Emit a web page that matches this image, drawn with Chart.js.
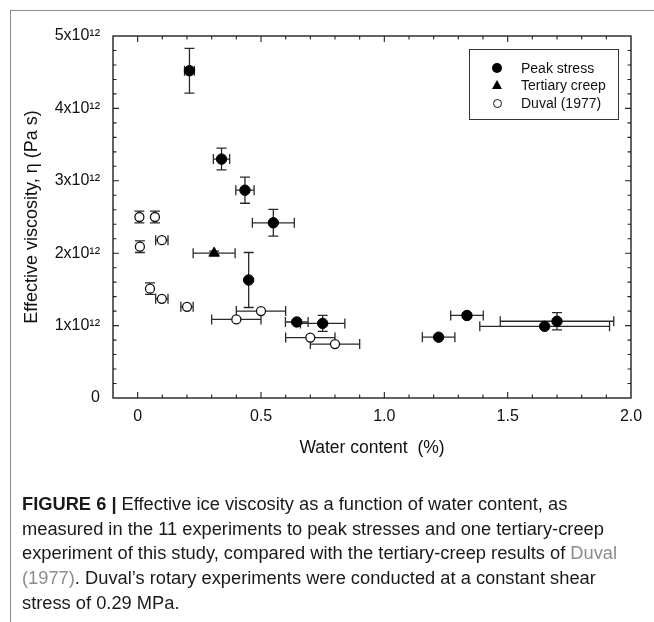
<!DOCTYPE html>
<html><head><meta charset="utf-8">
<script src="https://cdn.jsdelivr.net/npm/chart.js@4.4.0/dist/chart.umd.min.js"></script>
<style>
html,body{margin:0;padding:0;background:#fff;}
#wrap{position:relative;width:654px;height:622px;overflow:hidden;background:#fff;}
#frame{position:absolute;left:10px;top:10px;width:800px;height:800px;border-top:1.5px solid #8a8a8a;border-left:1.5px solid #8a8a8a;}
#c{position:absolute;left:0;top:0;}
#legend{position:absolute;left:469px;top:49px;width:150px;height:71px;border:1.2px solid #333;box-sizing:border-box;font:14px "Liberation Sans",Arial,sans-serif;color:#111;}
#legend .item{position:absolute;left:0;height:16px;width:148px;}
#legend .sym{position:absolute;box-sizing:border-box;}
#legend .txt{position:absolute;left:51px;top:0;line-height:16px;white-space:nowrap;}
#caption{position:absolute;left:22px;top:492px;width:640px;font:18.3px "Liberation Sans",Arial,sans-serif;line-height:24.7px;color:#1a1a1a;white-space:nowrap;}
#caption b{font-weight:bold;}
#caption .lnk{color:#8c8c8c;}
</style>
</head><body>
<div id="wrap">
<div id="frame"></div>
<canvas id="c" width="654" height="622"></canvas>
<div id="legend"></div>
<div id="caption"><b>FIGURE 6 |</b> Effective ice viscosity as a function of water content, as<br>measured in the 11 experiments to peak stresses and one tertiary-creep<br>experiment of this study, compared with the tertiary-creep results of <span class="lnk">Duval</span><br><span class="lnk">(1977)</span>. Duval’s rotary experiments were conducted at a constant shear<br>stress of 0.29 MPa.</div>
</div>
<script>
// ---- data ----
const seriesNames = ['Peak stress', 'Tertiary creep', 'Duval (1977)'];

const peakX    = [0.21, 0.34, 0.435, 0.55, 0.45, 0.645, 0.75, 1.22, 1.335, 1.65, 1.70];
const peakY    = [4.52e12, 3.30e12, 2.87e12, 2.42e12, 1.63e12, 1.05e12, 1.03e12, 0.84e12, 1.14e12, 0.99e12, 1.06e12];
const peakXErr = [0.02, 0.033, 0.037, 0.085, 0, 0.046, 0.09, 0.066, 0.066, 0.263, 0.23];
const peakYErr = [0.31e12, 0.15e12, 0.18e12, 0.185e12, 0.38e12, 0.03e12, 0.11e12, 0, 0.03e12, 0, 0.12e12];

const tertX    = [0.31];
const tertY    = [2.00e12];
const tertXErr = [0.085];
const tertYErr = [0.03e12];

const duvalX    = [0.007, 0.07, 0.098, 0.009, 0.05, 0.098, 0.2, 0.4, 0.5, 0.7, 0.8];
const duvalY    = [2.50e12, 2.50e12, 2.18e12, 2.09e12, 1.51e12, 1.37e12, 1.26e12, 1.085e12, 1.20e12, 0.835e12, 0.745e12];
const duvalXErr = [0, 0, 0.025, 0, 0, 0.025, 0.025, 0.1, 0.1, 0.1, 0.1];
const duvalYErr = [0.08e12, 0.08e12, 0, 0.08e12, 0.08e12, 0, 0, 0, 0, 0, 0];

const xTickValues = [0, 0.5, 1.0, 1.5, 2.0];
const xTickLabels = ['0', '0.5', '1.0', '1.5', '2.0'];
const yTickValues = [0, 1e12, 2e12, 3e12, 4e12, 5e12];
const yTickLabels = ['0', '1x10¹²', '2x10¹²', '3x10¹²', '4x10¹²', '5x10¹²'];

function pts(xs, ys, xe, ye){
  return xs.map((v,i)=>({x:v, y:ys[i], xErr:xe[i], yErr:ye[i]}));
}

const FONT = "'Liberation Sans', Arial, Helvetica, sans-serif";
Chart.defaults.font.family = FONT;
Chart.defaults.color = '#111';

const errPlugin = {
  id:'errbars',
  beforeDatasetsDraw(chart){
    const {ctx, scales:{x, y}} = chart;
    const cap = 5;
    ctx.save();
    ctx.strokeStyle = '#2a2a2a';
    ctx.lineWidth = 1.3;
    chart.data.datasets.forEach(ds=>{
      ds.data.forEach(p=>{
        const cx = x.getPixelForValue(p.x), cy = y.getPixelForValue(p.y);
        ctx.beginPath();
        if (p.xErr){
          const l = x.getPixelForValue(p.x - p.xErr), r = x.getPixelForValue(p.x + p.xErr);
          ctx.moveTo(l, cy); ctx.lineTo(r, cy);
          ctx.moveTo(l, cy-cap); ctx.lineTo(l, cy+cap);
          ctx.moveTo(r, cy-cap); ctx.lineTo(r, cy+cap);
        }
        if (p.yErr){
          const t = y.getPixelForValue(p.y + p.yErr), b = y.getPixelForValue(p.y - p.yErr);
          ctx.moveTo(cx, t); ctx.lineTo(cx, b);
          ctx.moveTo(cx-cap, t); ctx.lineTo(cx+cap, t);
          ctx.moveTo(cx-cap, b); ctx.lineTo(cx+cap, b);
        }
        ctx.stroke();
      });
    });
    ctx.restore();
  }
};

const framePlugin = {
  id:'frame',
  afterDraw(chart){
    const {ctx, chartArea:a, scales:{x, y}} = chart;
    ctx.save();
    ctx.strokeStyle = '#222';
    ctx.lineWidth = 1.4;
    ctx.strokeRect(a.left, a.top, a.right - a.left, a.bottom - a.top);
    ctx.lineWidth = 1.1;
    ctx.beginPath();
    for (let i = 0; i < 20; i++){
      const px = x.getPixelForValue(i/10);
      const L = (i % 5 === 0) ? 6 : 3.5;
      ctx.moveTo(px, a.bottom); ctx.lineTo(px, a.bottom - L);
      ctx.moveTo(px, a.top); ctx.lineTo(px, a.top + L);
    }
    for (let i = 1; i < 25; i++){
      const py = y.getPixelForValue(i*0.2e12);
      const L = (i % 5 === 0) ? 6 : 3.5;
      ctx.moveTo(a.left, py); ctx.lineTo(a.left + L, py);
      ctx.moveTo(a.right, py); ctx.lineTo(a.right - L, py);
    }
    ctx.stroke();
    ctx.restore();
  }
};

const chart = new Chart(document.getElementById('c'), {
  type:'scatter',
  data:{
    datasets:[
      {label:seriesNames[0], data:pts(peakX, peakY, peakXErr, peakYErr), pointStyle:'circle', pointRadius:5.2, backgroundColor:'#000', borderColor:'#000', borderWidth:1},
      {label:seriesNames[1], data:pts(tertX, tertY, tertXErr, tertYErr), pointStyle:'triangle', pointRadius:6, backgroundColor:'#000', borderColor:'#000', borderWidth:1},
      {label:seriesNames[2], data:pts(duvalX, duvalY, duvalXErr, duvalYErr), pointStyle:'circle', pointRadius:4.5, backgroundColor:'#fff', borderColor:'#111', borderWidth:1.3}
    ]
  },
  options:{
    responsive:false,
    animation:false,
    layout:{padding:{left:10, top:36, right:23, bottom:154}},
    plugins:{legend:{display:false}, tooltip:{enabled:false}},
    scales:{
      x:{
        type:'linear', min:-0.1, max:2.0,
        afterFit(s){ s.height = 70; },
        afterBuildTicks(s){ s.ticks = xTickValues.map(v=>({value:v})); },
        ticks:{callback:(v,i)=>xTickLabels[i], font:{size:16}, color:'#111', padding:9, maxRotation:0, autoSkip:false},
        grid:{display:false, drawTicks:false},
        border:{display:false},
        title:{display:true, text:'Water content  (%)', font:{size:17.5}, color:'#111', padding:{top:0, bottom:9}}
      },
      y:{
        type:'linear', min:0, max:5e12,
        afterFit(s){ s.width = 103; },
        afterBuildTicks(s){ s.ticks = yTickValues.map(v=>({value:v})); },
        ticks:{callback:(v,i)=>yTickLabels[i], font:{size:16}, color:'#111', padding:13, autoSkip:false},
        grid:{display:false, drawTicks:false},
        border:{display:false},
        title:{display:true, text:'Effective viscosity, η (Pa s)', font:{size:18}, color:'#111', padding:{top:11, bottom:0}}
      }
    }
  },
  plugins:[errPlugin, framePlugin]
});

// HTML legend built from dataset labels
(function(){
  const lg = document.getElementById('legend');
  const rows = [10, 27, 45];
  chart.data.datasets.forEach((ds, i)=>{
    const it = document.createElement('div');
    it.className = 'item';
    it.style.top = rows[i] + 'px';
    const s = document.createElement('div');
    s.className = 'sym';
    if (i === 0){ s.style.cssText = 'left:22px;top:3px;width:10px;height:10px;border-radius:50%;background:#000;'; }
    else if (i === 1){ s.style.cssText = 'left:22px;top:3px;width:0;height:0;border-left:5px solid transparent;border-right:5px solid transparent;border-bottom:9px solid #000;'; }
    else { s.style.cssText = 'left:23px;top:4px;width:9px;height:9px;border-radius:50%;border:1.2px solid #111;background:#fff;'; }
    const t = document.createElement('div');
    t.className = 'txt';
    t.textContent = ds.label;
    it.appendChild(s); it.appendChild(t);
    lg.appendChild(it);
  });
})();
</script>
</body></html>
